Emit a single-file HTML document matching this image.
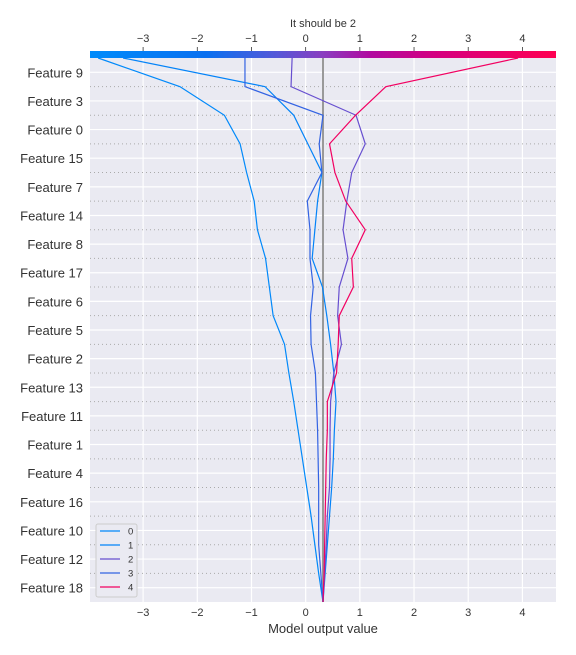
<!DOCTYPE html>
<html><head><meta charset="utf-8"><style>
body{margin:0;background:#fff;}
svg{display:block;font-family:"Liberation Sans",sans-serif;}
</style></head><body>
<svg id="c" width="576" height="655"></svg>
<script>
const features=["Feature 9","Feature 3","Feature 0","Feature 15","Feature 7","Feature 14","Feature 8","Feature 17","Feature 6","Feature 5","Feature 2","Feature 13","Feature 11","Feature 1","Feature 4","Feature 16","Feature 10","Feature 12","Feature 18"];
const xTicks=[-3,-2,-1,0,1,2,3,4];
const baseValue=0.32;
const seriesNames=["0","1","2","3","4"];
// cumulative values at boundaries top (k=0) to bottom (k=19)
const s0=[-3.83,-2.32,-1.50,-1.21,-1.09,-0.95,-0.89,-0.74,-0.67,-0.60,-0.39,-0.31,-0.22,-0.14,-0.06,0.02,0.10,0.17,0.24,0.32];
const s1=[-3.37,-0.75,-0.22,0.04,0.30,0.22,0.17,0.12,0.31,0.39,0.46,0.52,0.56,0.53,0.51,0.48,0.44,0.40,0.36,0.32];
const s2=[-0.25,-0.27,0.93,1.10,0.85,0.76,0.69,0.78,0.62,0.59,0.66,0.52,0.46,0.45,0.45,0.44,0.40,0.38,0.35,0.32];
const s3=[-1.12,-1.12,0.32,0.25,0.30,0.03,0.08,0.08,0.14,0.09,0.10,0.18,0.20,0.22,0.23,0.24,0.24,0.24,0.28,0.32];
const s4=[3.92,1.48,0.92,0.44,0.54,0.74,1.10,0.85,0.88,0.62,0.60,0.57,0.40,0.40,0.38,0.37,0.36,0.35,0.34,0.32];
const series=[s0,s1,s2,s3,s4];
const xMin=-3.98,xMax=4.62,L=90,R=556,T=58,B=602;
const xs=v=>L+(v-xMin)/(xMax-xMin)*(R-L);
const rowH=(B-T)/features.length;
const yb=k=>T+k*rowH;
const NS="http://www.w3.org/2000/svg";
const svg=document.getElementById('c');
function mk(t,a,p){const e=document.createElementNS(NS,t);for(const k in a)e.setAttribute(k,a[k]);(p||svg).appendChild(e);return e;}
const stops=[[0,[0,139,251]],[0.25,[10,112,240]],[0.4,[85,88,216]],[0.5,[138,62,192]],[0.6,[176,10,160]],[0.75,[214,0,127]],[1,[255,0,82]]];
function col(v){let t=Math.max(0,Math.min(1,(v-xMin)/(xMax-xMin)));for(let i=1;i<stops.length;i++){if(t<=stops[i][0]){const a=stops[i-1],b=stops[i],f=(t-a[0])/(b[0]-a[0]);return 'rgb('+a[1].map((c,j)=>Math.round(c+(b[1][j]-c)*f)).join(',')+')';}}return 'rgb(255,0,82)';}
let e;
e=mk('rect',{x:L,y:T,width:R-L,height:B-T,fill:'#eaeaf2'});

xTicks.forEach(t=>{
 e=mk('line',{x1:xs(t),x2:xs(t),y1:T,y2:B,stroke:'#fff','stroke-width':1.2});
 
 e=mk('text',{x:xs(t),y:616,'text-anchor':'middle','font-size':11,fill:'#333'});e.textContent=(t<0?'\u2212'+(-t):t);
 
 e=mk('text',{x:xs(t),y:42,'text-anchor':'middle','font-size':11,fill:'#333'});e.textContent=(t<0?'\u2212'+(-t):t);
 
 e=mk('line',{x1:xs(t),x2:xs(t),y1:47,y2:51,stroke:'#333','stroke-width':0.8});
 
});
features.forEach((f,i)=>{
 const y=yb(i+0.5);
 e=mk('line',{x1:L,x2:R,y1:y,y2:y,stroke:'#fff','stroke-width':1.2});
 
 e=mk('text',{x:83,y:y+5,'text-anchor':'end','font-size':13,fill:'#333'});e.textContent=f;
 
 if(i>0){e=mk('line',{x1:L,x2:R,y1:yb(i),y2:yb(i),stroke:'#aaa','stroke-width':1,'stroke-dasharray':'1,3'});
 }
});
e=mk('line',{x1:xs(baseValue),x2:xs(baseValue),y1:T,y2:B,stroke:'#999','stroke-width':2});

series.forEach((s,i)=>{
 e=mk('polyline',{points:s.map((v,k)=>xs(v)+','+yb(k)).join(' '),fill:'none',stroke:col(s[0]),'stroke-width':1.2});
 
});
// colorbar
const defs=mk('defs',{});const g=mk('linearGradient',{id:'cb',x1:0,x2:1,y1:0,y2:0},defs);
stops.forEach(s=>mk('stop',{offset:s[0],'stop-color':'rgb('+s[1].join(',')+')'},g));
e=mk('rect',{x:L,y:51,width:R-L,height:7,fill:'url(#cb)'});

e=mk('text',{x:323,y:27,'text-anchor':'middle','font-size':11,fill:'#333'});e.textContent='It should be 2';

e=mk('text',{x:323,y:633,'text-anchor':'middle','font-size':13,fill:'#333'});e.textContent='Model output value';

// legend
const lg=mk('g',{});
mk('rect',{x:96,y:524,width:41,height:73,rx:2,fill:'#eaeaf2',stroke:'#ccc','stroke-width':1},lg);
series.forEach((s,i)=>{
 const y=531+i*14;
 e=mk('line',{x1:100,x2:120,y1:y,y2:y,stroke:col(s[0]),'stroke-width':1.2},lg);
 
 e=mk('text',{x:128,y:y+3.5,'font-size':9.5,fill:'#333'},lg);e.textContent=seriesNames[i];
 
});
</script>
</body></html>
